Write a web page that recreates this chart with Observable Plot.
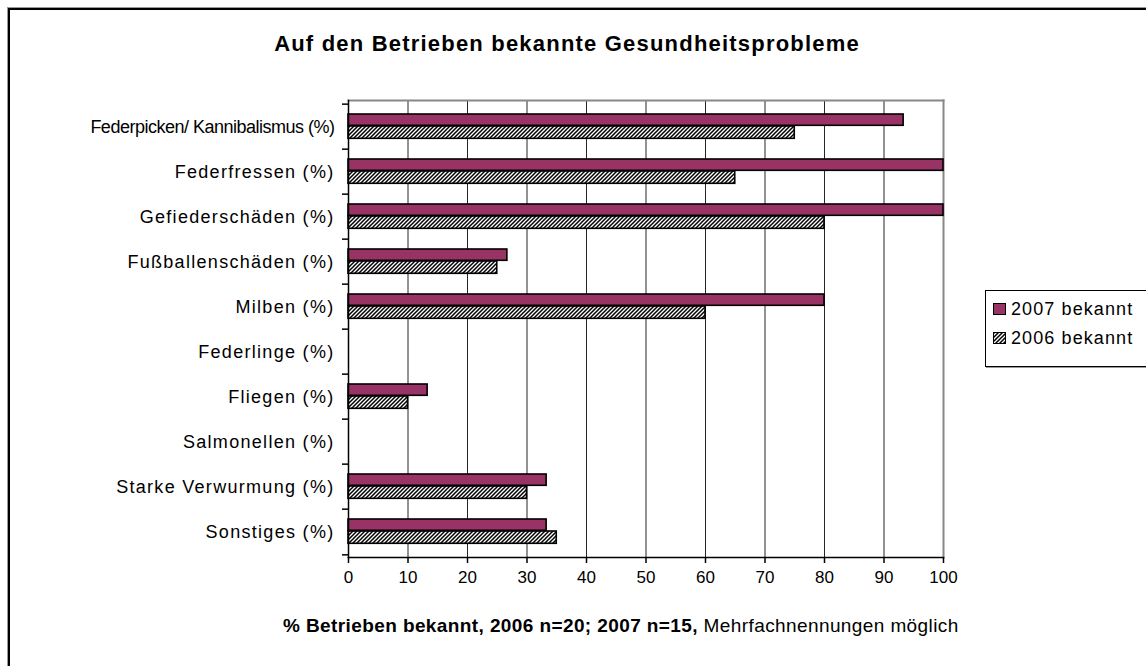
<!DOCTYPE html>
<html>
<head>
<meta charset="utf-8">
<script src="https://cdn.jsdelivr.net/npm/d3@7"></script>
<script src="https://cdn.jsdelivr.net/npm/@observablehq/plot@0.6"></script>
<style>
  html, body { margin: 0; padding: 0; background: #fff; }
  #wrap { position: relative; width: 1146px; height: 666px; overflow: hidden; font-family: "Liberation Sans", Arial, sans-serif; }
  #frame { position: absolute; left: 8px; top: 8px; width: 1200px; height: 700px; border-left: 2px solid #000; border-top: 2px solid #000; box-shadow: -1px -1px 0 #999; }
  #title { position: absolute; left: 0; width: 1134px; top: 31px; text-align: center; font-weight: bold; font-size: 22px; letter-spacing: 1.2px; white-space: nowrap; }
  #caption { position: absolute; left: 283px; top: 615px; font-size: 19px; letter-spacing: 0.4px; white-space: nowrap; }
  #legend { position: absolute; left: 985px; top: 290px; width: 200px; height: 75px; border: 1px solid #000; box-shadow: 1px 1px 0 #999; background: #fff; }
  .item { position: absolute; left: 7px; font-size: 18px; letter-spacing: 1.1px; white-space: nowrap; }
  .sw { display: inline-block; width: 11px; height: 10px; border: 1px solid #000; margin-right: 5px; vertical-align: baseline; }
  #plot { position: absolute; left: 0; top: 0; }
</style>
</head>
<body>
<div id="wrap">
  <div id="frame"></div>
  <div id="title">Auf den Betrieben bekannte Gesundheitsprobleme</div>
  <div id="plot"></div>
  <div id="legend">
    <div class="item" style="top:8px"><span class="sw" style="background:#993366"></span>2007 bekannt</div>
    <div class="item" style="top:37px"><span class="sw"><svg width="11" height="10" style="display:block"><rect width="11" height="10" fill="url(#hatch)"/></svg></span>2006 bekannt</div>
  </div>
  <div id="caption"><b>% Betrieben bekannt, 2006 n=20; 2007 n=15,</b> Mehrfachnennungen möglich</div>
</div>
<svg width="0" height="0" style="position:absolute">
  <defs>
    <pattern id="hatch" patternUnits="userSpaceOnUse" width="4" height="4">
      <rect width="4" height="4" fill="#fff"/>
      <path d="M-1,1 L1,-1 M0,4 L4,0 M3,5 L5,3" stroke="#000" stroke-width="1.5"/>
    </pattern>
  </defs>
</svg>
<script>
const categories = [
  "Federpicken/ Kannibalismus (%)",
  "Federfressen (%)",
  "Gefiederschäden (%)",
  "Fußballenschäden (%)",
  "Milben (%)",
  "Federlinge (%)",
  "Fliegen (%)",
  "Salmonellen (%)",
  "Starke Verwurmung (%)",
  "Sonstiges (%)"
];
const values2007 = [93.3, 100, 100, 26.7, 80, 0, 13.3, 0, 33.3, 33.3];
const values2006 = [75, 65, 80, 25, 60, 0, 10, 0, 30, 35];
const xTicks = [0, 10, 20, 30, 40, 50, 60, 70, 80, 90, 100];

const rows2007 = categories.map((c, i) => ({cat: c, v: values2007[i]})).filter(d => d.v > 0);
const rows2006 = categories.map((c, i) => ({cat: c, v: values2006[i]})).filter(d => d.v > 0);

const W = 1146, H = 666, mL = 348, mR = 203, mT = 100, mB = 109;
const bw = (H - mT - mB) / categories.length;

const chart = Plot.plot({
  width: W, height: H,
  marginLeft: mL, marginRight: mR, marginTop: mT, marginBottom: mB,
  style: {fontFamily: "'Liberation Sans', Arial, sans-serif", fontSize: "16px", background: "transparent", color: "#000", overflow: "visible"},
  x: {domain: [0, 100], ticks: xTicks, label: null},
  y: {domain: categories, padding: 0, label: null},
  marks: [
    Plot.ruleX(xTicks.slice(1, -1), {stroke: "#000", strokeWidth: 1, strokeOpacity: 0.85}),
    Plot.frame({anchor: "top", stroke: "#888", strokeWidth: 2}),
    Plot.frame({anchor: "right", stroke: "#888", strokeWidth: 2}),
    Plot.barX(rows2007, {x: "v", y: "cat", fill: "#993366", stroke: "#000", strokeWidth: 1.6, insetTop: 10, insetBottom: bw - 22}),
    Plot.barX(rows2006, {x: "v", y: "cat", fill: "url(#hatch)", stroke: "#000", strokeWidth: 1.6, insetTop: 22, insetBottom: bw - 35}),
    Plot.frame({anchor: "left", stroke: "#000", strokeWidth: 1.5}),
    Plot.frame({anchor: "bottom", stroke: "#000", strokeWidth: 1.5}),
    Plot.axisX(xTicks, {tickSize: 6, tickPadding: 7, fontSize: 17, label: null, strokeWidth: 1.5}),
    Plot.axisY({tickSize: 0, tickPadding: 14, fontSize: 18, label: null}),
    Plot.axisY(categories, {tickSize: 6, text: null, label: null, dy: -bw / 2, strokeWidth: 1.5}),
    Plot.axisY([categories[categories.length - 1]], {tickSize: 6, text: null, label: null, dy: bw / 2, strokeWidth: 1.5})
  ]
});
d3.select(chart).selectAll('g[aria-label="y-axis tick label"] text')
  .style("letter-spacing", function() { return this.textContent.startsWith("Federpicken") ? "-0.5px" : "1.3px"; });
document.getElementById("plot").appendChild(chart);
</script>
</body>
</html>
